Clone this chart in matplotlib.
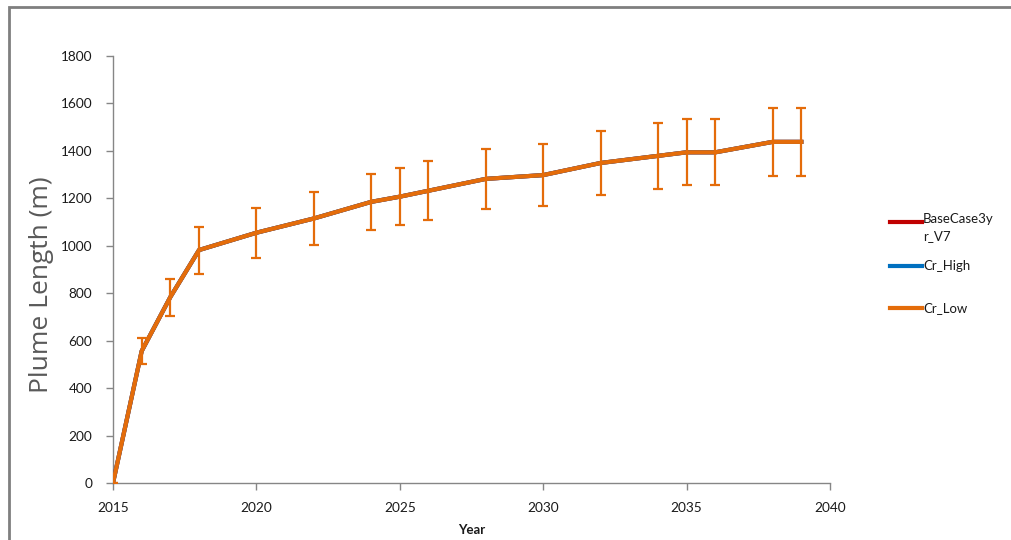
import matplotlib
matplotlib.use("Agg")
import matplotlib.pyplot as plt
from matplotlib.lines import Line2D
from matplotlib.patches import Rectangle

plt.rcParams['font.family'] = ['Lato', 'DejaVu Sans']

years = [2015, 2016, 2017, 2018, 2020, 2022, 2024, 2025, 2026, 2028,
         2030, 2032, 2034, 2035, 2036, 2038, 2039]
plume_length = [0, 556, 784, 982, 1055, 1115, 1185, 1207, 1232, 1282,
                1298, 1349, 1379, 1394, 1394, 1438, 1438]
plume_err = [0, 56, 78, 99, 106, 112, 119, 121, 124, 128,
             130, 135, 138, 139, 139, 144, 144]

series_names = ["BaseCase3y\nr_V7", "Cr_High", "Cr_Low"]
series_colors = ["#C00000", "#0070C0", "#E46C0A"]

fig = plt.figure(figsize=(10.12, 5.40), dpi=100)
ax = fig.add_axes([113 / 1012, 57 / 540, 717 / 1012, 427 / 540])

for name, color in zip(series_names, series_colors):
    ax.plot(years, plume_length, color=color, lw=3.0, solid_joinstyle='round',
            zorder=3)

ax.errorbar(years, plume_length, yerr=plume_err, fmt='none', ecolor="#E46C0A",
            elinewidth=1.6, capsize=3.5, capthick=1.6, zorder=4)

ax.set_xlim(2015, 2040)
ax.set_ylim(0, 1800)
ax.set_xticks(range(2015, 2041, 5))
ax.set_yticks(range(0, 1801, 200))

for side in ("top", "right"):
    ax.spines[side].set_visible(False)
for side in ("left", "bottom"):
    ax.spines[side].set_color("#868686")
    ax.spines[side].set_linewidth(1.0)
ax.tick_params(axis='both', colors="#868686", labelcolor="#1a1a1a",
               labelsize=9.8, length=5, width=1.0, direction='out')
ax.tick_params(axis='y', pad=10)
ax.tick_params(axis='x', pad=9)

ax.set_xlabel("Year", fontsize=9.5, fontweight='bold', color="#1a1a1a",
              labelpad=7)
ax.set_ylabel("Plume Length (m)", fontsize=19, color="#595959",
              family=['Open Sans', 'DejaVu Sans'])
ax.yaxis.set_label_coords((54 - 113) / 717, (483 - 285) / 427)

# legend entries drawn at the right of the plot
legend_rows = [222, 266, 308]
for name, color, y in zip(series_names, series_colors, legend_rows):
    yf = 1 - y / 540
    fig.add_artist(Line2D([890 / 1012, 922 / 1012], [yf, yf],
                          transform=fig.transFigure, color=color, lw=3))
    if "\n" in name:
        fig.text(923 / 1012, 1 - 213 / 540, name, fontsize=9.5,
                 color="#1a1a1a", va='top', linespacing=1.55)
    else:
        fig.text(923 / 1012, yf, name, fontsize=9.5, color="#1a1a1a",
                 va='center')

# outer chart frame
fig.add_artist(Rectangle((9 / 1012, -0.05), 1.1, 1 - 7 / 540 + 0.05,
                         transform=fig.transFigure, fill=False,
                         edgecolor="#7f7f7f", lw=2))

fig.savefig("out.png", dpi=100)
